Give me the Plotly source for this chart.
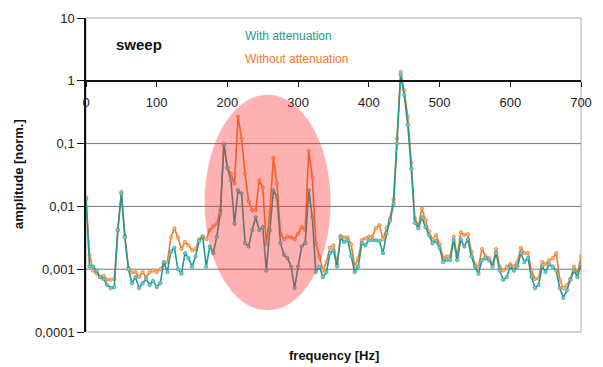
import math
import plotly.graph_objects as go

# Frequency grid [Hz]
frequency = list(range(0, 705, 5))

# Normalised amplitude with attenuation
with_att = [
    0.013, 0.0011, 0.0011, 0.00095, 0.00075, 0.0007, 0.00056, 0.0005, 0.00052, 0.0042,
    0.016, 0.0032, 0.001, 0.0006, 0.00075, 0.0005, 0.0006, 0.0007, 0.00056, 0.00065,
    0.00052, 0.0006, 0.0013, 0.0009, 0.0019, 0.0022, 0.001, 0.00085, 0.0018, 0.0015,
    0.0011, 0.0016, 0.0028, 0.0033, 0.0011, 0.0023, 0.0018, 0.0033, 0.0077, 0.098,
    0.041, 0.026, 0.0053, 0.018, 0.016, 0.0026, 0.0023, 0.0042, 0.0067, 0.0042,
    0.0047, 0.00095, 0.0042, 0.018, 0.014, 0.0026, 0.0017, 0.0015, 0.0011, 0.0005,
    0.0011, 0.0023, 0.0026, 0.018, 0.0067, 0.0009, 0.0011, 0.00075, 0.0009, 0.0018,
    0.002, 0.0011, 0.0032, 0.0027, 0.0029, 0.0016, 0.0009, 0.0011, 0.0026, 0.0024,
    0.0029, 0.0029, 0.0029, 0.0028, 0.0018, 0.0037, 0.006, 0.011, 0.1, 1.25,
    0.6, 0.2, 0.04, 0.0055, 0.0045, 0.0067, 0.0047, 0.0035, 0.0026, 0.0028,
    0.0022, 0.0013, 0.0014, 0.0014, 0.0029, 0.0014, 0.003, 0.0023, 0.003, 0.0016,
    0.0011, 0.00085, 0.0014, 0.0015, 0.0014, 0.0011, 0.0018, 0.00095, 0.00068, 0.00075,
    0.0011, 0.00095, 0.0011, 0.0018, 0.0013, 0.0015, 0.00075, 0.0005, 0.00056, 0.0011,
    0.0009, 0.0012, 0.0011, 0.00095, 0.0005, 0.00035, 0.00046, 0.00068, 0.00095, 0.00075,
    0.0012,
]

# Normalised amplitude without attenuation
without_att = [
    0.014, 0.0017, 0.00095, 0.00085, 0.00075, 0.00078, 0.00068, 0.00068, 0.0007, 0.0042,
    0.017, 0.0034, 0.00105, 0.00088, 0.0009, 0.00075, 0.0009, 0.00075, 0.0009, 0.00095,
    0.0009, 0.001, 0.0012, 0.0013, 0.0032, 0.0045, 0.0032, 0.0021, 0.0027, 0.0024,
    0.002, 0.0021, 0.003, 0.0033, 0.003, 0.0042, 0.0048, 0.0053, 0.0087, 0.094,
    0.041, 0.033, 0.023, 0.27, 0.12, 0.033, 0.012, 0.0087, 0.0087, 0.026,
    0.02, 0.0025, 0.008, 0.059, 0.023, 0.0037, 0.003, 0.0033, 0.0032, 0.003,
    0.0037, 0.0047, 0.0042, 0.076, 0.029, 0.0026, 0.0016, 0.00095, 0.0013, 0.0022,
    0.0024, 0.0012, 0.0034, 0.0032, 0.0032, 0.0025, 0.0011, 0.0015, 0.0029, 0.0031,
    0.0033, 0.0033, 0.0045, 0.005, 0.003, 0.0045, 0.0065, 0.013, 0.12, 1.38,
    0.7, 0.27, 0.05, 0.0065, 0.0049, 0.0093, 0.006, 0.004, 0.003, 0.0035,
    0.0025, 0.0015, 0.0016, 0.0016, 0.0033, 0.0016, 0.0039, 0.0035, 0.0036, 0.0019,
    0.0012, 0.0011, 0.0021, 0.0016, 0.0015, 0.0012, 0.0021, 0.0011, 0.00095, 0.0011,
    0.0012, 0.0011, 0.0013, 0.0022, 0.0018, 0.0018, 0.00095, 0.0007, 0.00072, 0.0013,
    0.0012, 0.0014, 0.0015, 0.0018, 0.00068, 0.0005, 0.00055, 0.0007, 0.0011, 0.00085,
    0.0016,
]

y_tickvals = [0.0001, 0.001, 0.01, 0.1, 1, 10]
y_ticktext = ["0,0001", "0,001", "0,01", "0,1", "1", "10"]
grid_vals = [0.001, 0.01, 0.1]
x_tickvals = [0, 100, 200, 300, 400, 500, 600, 700]

Y_LOG_RANGE = [-4, 1]
TEAL = "#1f9a96"
ORANGE = "#f07a2a"
FONT = "Liberation Sans, Arial, sans-serif"

fig = go.Figure()

# Plot frame (top, right and bottom edges in light grey)
fig.add_shape(type="rect", xref="paper", yref="paper", x0=0, x1=1, y0=0, y1=1,
              line=dict(color="#aaaaaa", width=1), layer="below")

# Horizontal decade grid lines
for v in grid_vals:
    yp = (math.log10(v) - Y_LOG_RANGE[0]) / (Y_LOG_RANGE[1] - Y_LOG_RANGE[0])
    fig.add_shape(type="line", xref="paper", yref="paper", x0=0, x1=1, y0=yp, y1=yp,
                  line=dict(color="#777777", width=1), layer="below")

fig.add_trace(go.Scatter(
    x=frequency, y=without_att, mode="lines+markers", name="Without attenuation",
    line=dict(color=ORANGE, width=1.6),
    marker=dict(size=3.5, color="#f7b27a", line=dict(color=ORANGE, width=0.6)),
))
fig.add_trace(go.Scatter(
    x=frequency, y=with_att, mode="lines+markers", name="With attenuation",
    line=dict(color=TEAL, width=1.6),
    marker=dict(size=3.5, color="#7cc7c2", line=dict(color=TEAL, width=0.6)),
))

# Highlighted region of the sweep
fig.add_shape(type="circle", xref="paper", yref="paper",
              x0=0.2395, x1=0.4941, y0=0.069, y1=0.7555,
              fillcolor="rgba(255,40,40,0.36)", line=dict(width=0), layer="above")

fig.update_layout(
    width=603, height=367,
    margin=dict(l=86, r=11, t=15, b=35),
    paper_bgcolor="white", plot_bgcolor="white",
    showlegend=False,
    font=dict(family=FONT, size=13, color="#222222"),
    xaxis=dict(
        range=[0, 700], tickvals=x_tickvals, showgrid=False, zeroline=False,
        anchor="free", position=(332 - 79) / 317,
        showline=True, linecolor="#111111", linewidth=1.5,
        ticks="outside", ticklen=5, tickcolor="#111111", ticklabelstandoff=4,
        tickfont=dict(size=13, family=FONT, color="#222222"),
    ),
    yaxis=dict(
        type="log", range=Y_LOG_RANGE, tickvals=y_tickvals, ticktext=y_ticktext,
        showgrid=False, zeroline=False,
        showline=True, linecolor="#111111", linewidth=1.5,
        ticks="outside", ticklen=7, tickcolor="#111111",
        tickfont=dict(size=13, family=FONT, color="#222222"),
    ),
)


def px_x(px):
    return (px - 86) / 506


def px_y(py):
    return (332 - py) / 317


def label(text, x, y, size, color, xanchor="center", angle=0):
    fig.add_annotation(text=text, x=px_x(x), y=px_y(y), xref="paper", yref="paper",
                       xanchor=xanchor, yanchor="middle", textangle=angle,
                       showarrow=False, font=dict(size=size, color=color, family=FONT))


label("<b>sweep</b>", 140, 42, 15, "#111111")
label("With attenuation", 246, 33, 12, TEAL, xanchor="left")
label("Without attenuation", 246, 56, 12, ORANGE, xanchor="left")
label("<b>frequency [Hz]</b>", 339, 356, 13, "#111111")
label("<b>amplitude [norm.]</b>", 17, 173, 13, "#111111", angle=-90)

fig.write_html("out.html")
